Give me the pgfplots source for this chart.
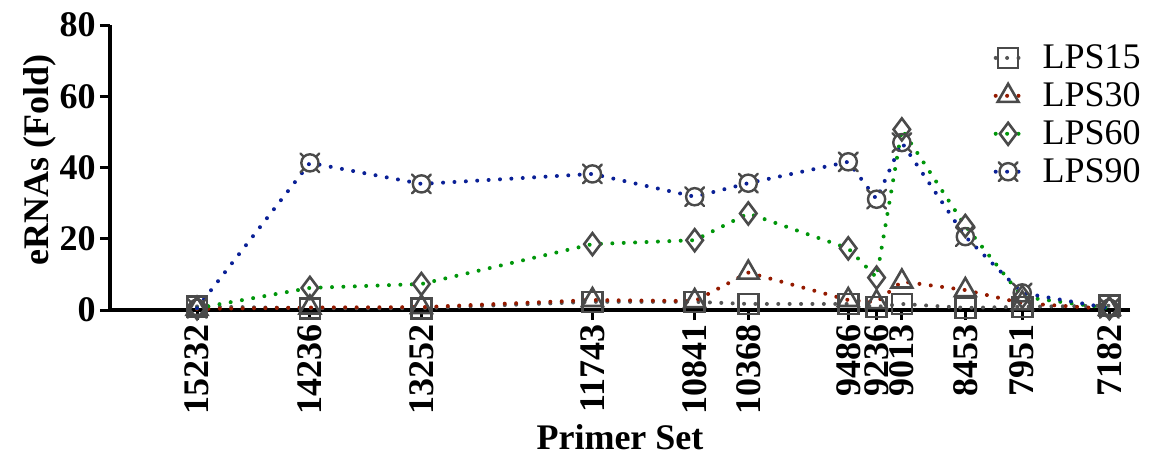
\documentclass[border=0pt]{standalone}
\usepackage{fontspec}
\setmainfont{Liberation Serif}
\usepackage{pgfplots}
\pgfplotsset{compat=1.18}

\definecolor{mk}{HTML}{4A4A4A}
\definecolor{c15}{HTML}{555555}
\definecolor{c30}{HTML}{941A00}
\definecolor{c60}{HTML}{00960A}
\definecolor{c90}{HTML}{0A2096}

% open circle with four short diagonal spurs
\pgfdeclareplotmark{ospur}{%
  \pgfpathcircle{\pgfpointorigin}{\pgfplotmarksize}%
  \pgfpathmoveto{\pgfpointpolar{45}{\pgfplotmarksize}}\pgfpathlineto{\pgfpointpolar{45}{1.55\pgfplotmarksize}}%
  \pgfpathmoveto{\pgfpointpolar{135}{\pgfplotmarksize}}\pgfpathlineto{\pgfpointpolar{135}{1.55\pgfplotmarksize}}%
  \pgfpathmoveto{\pgfpointpolar{225}{\pgfplotmarksize}}\pgfpathlineto{\pgfpointpolar{225}{1.55\pgfplotmarksize}}%
  \pgfpathmoveto{\pgfpointpolar{315}{\pgfplotmarksize}}\pgfpathlineto{\pgfpointpolar{315}{1.55\pgfplotmarksize}}%
  \pgfusepathqstroke
}

\pgfplotsset{
  dots/.style={line width=2pt, line cap=round, dash pattern=on 0pt off 5.7pt},
}

\begin{document}
\begin{tikzpicture}
\path[use as bounding box] (-55pt,-73pt) rectangle (522.5pt,155pt);
\begin{axis}[
  scale only axis,
  width=510pt, height=142.5pt,
  at={(0,0)}, anchor=south west,
  x dir=reverse,
  xmin=7000, xmax=16000,
  ymin=0, ymax=80,
  axis x line=bottom, axis y line=left,
  axis line style={line width=1.6pt, -},
  every tick/.style={black, line width=1.5pt},
  major tick length=5pt,
  tick align=outside,
  scaled x ticks=false,
  xtick={15232,14236,13252,11743,10841,10368,9486,9236,9013,8453,7951,7182},
  xticklabels={15232,14236,13252,11743,10841,10368,9486,9236,9013,8453,7951,7182},
  ytick={0,20,40,60,80},
  /pgf/number format/assume math mode=true,
  tick label style={font=\fontsize{18}{18}\selectfont\bfseries},
  xticklabel style={rotate=90, anchor=east, inner sep=2pt},
  yticklabel style={inner sep=2pt},
  xlabel={Primer Set},
  ylabel={eRNAs (Fold)},
  label style={font=\fontsize{18}{18}\selectfont\bfseries},
  xlabel style={at={(0.5,0)}, anchor=center, yshift=-63.5pt},
  ylabel style={at={(0,0.528)}, anchor=center, yshift=35pt},
  clip=false,
  legend cell align=left,
  legend style={draw=none, fill=none, at={(0.866,0.94)}, anchor=north west,
    font=\fontsize{18}{18}\selectfont, row sep=3.5pt, column sep=9pt, inner sep=0pt,
    nodes={inner sep=1pt}},
  legend image code/.code={
    \draw[#1, mark repeat=2, mark phase=2] plot coordinates {(0pt,0pt) (6.2pt,0pt) (12.4pt,0pt)};
  },
]
% LPS15
\addplot[dots, c15, mark=square, mark size=5pt, mark options={solid, draw=mk, fill=none, line width=1.3pt}] coordinates {
  (15232,1.0) (14236,0.5) (13252,0.5) (11743,2.3) (10841,2.3) (10368,1.7)
  (9486,1.7) (9236,0.9) (9013,1.7) (8453,0.6) (7951,0.9) (7182,1.2)
};
\addlegendentry{LPS15}
% LPS30
\addplot[dots, c30, mark=triangle, mark size=6pt, mark options={solid, draw=mk, fill=none, line width=1.3pt}] coordinates {
  (15232,0.3) (14236,0.7) (13252,0.8) (11743,2.8) (10841,2.5) (10368,10.5)
  (9486,2.8) (9236,2.2) (9013,8.0) (8453,5.6) (7951,1.9) (7182,0.3)
};
\addlegendentry{LPS30}
% LPS60
\addplot[dots, c60, mark=diamond, mark size=5.5pt, mark options={solid, draw=mk, fill=none, line width=1.3pt}] coordinates {
  (15232,0.5) (14236,6.2) (13252,7.3) (11743,18.5) (10841,19.6) (10368,27.1)
  (9486,17.3) (9236,9.1) (9013,50.7) (8453,23.6) (7951,3.7) (7182,0.5)
};
\addlegendentry{LPS60}
% LPS90
\addplot[dots, c90, mark=ospur, mark size=4.3pt, mark options={solid, draw=mk, fill=none, line width=1.2pt}] coordinates {
  (15232,0.5) (14236,41.3) (13252,35.4) (11743,38.2) (10841,31.8) (10368,35.6)
  (9486,41.6) (9236,31.1) (9013,47.0) (8453,20.6) (7951,4.8) (7182,0.5)
};
\addlegendentry{LPS90}
\end{axis}
\end{tikzpicture}
\end{document}
